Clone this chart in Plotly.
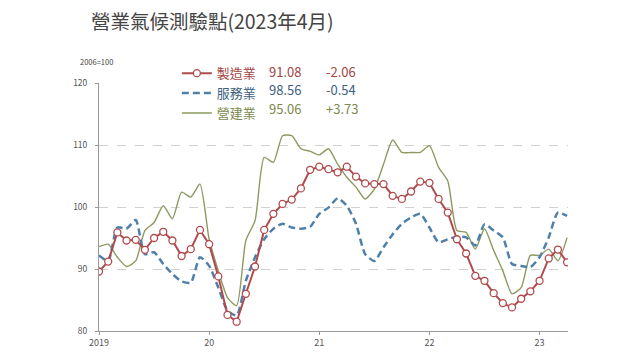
import plotly.graph_objects as go

months = list(range(52))  # 2019-01 .. 2023-04
tick_vals = [0, 12, 24, 36, 48]
tick_text = ["2019", "20", "21", "22", "23"]

manufacturing = [89.6, 91.2, 95.9, 94.6, 94.7, 93.1, 95.0, 96.0, 94.6, 92.1, 93.2, 96.3,
                 94.0, 88.8, 82.6, 81.5, 86.0, 90.4, 96.3, 98.9, 100.5, 101.2, 103.0, 106.0,
                 106.5, 106.1, 105.6, 106.5, 104.9, 103.8, 103.7, 103.7, 101.8, 101.3, 102.5, 104.1,
                 103.9, 101.3, 99.1, 94.8, 92.5, 88.9, 88.1, 86.1, 84.5, 83.8, 85.2, 86.4,
                 88.1, 91.7, 93.14, 91.08]
services = [92.2, 91.3, 96.7, 96.5, 97.9, 92.4, 92.7, 90.8, 89.2, 88.0, 87.8, 91.9,
            90.5, 87.0, 83.3, 82.5, 88.1, 91.9, 94.8, 96.5, 97.3, 96.7, 96.5, 96.8,
            98.9, 99.9, 101.4, 100.2, 97.3, 92.4, 91.3, 93.5, 95.6, 97.3, 98.3, 98.9,
            96.7, 94.3, 94.8, 95.2, 95.1, 93.8, 97.2, 96.2, 95.1, 90.8, 90.5, 90.3,
            91.9, 95.1, 99.10, 98.56]
construction = [93.6, 94.0, 91.9, 90.4, 91.3, 96.2, 97.5, 100.2, 98.1, 102.4, 101.6, 103.7,
                94.8, 89.7, 85.4, 84.1, 94.6, 97.8, 108.0, 107.2, 111.5, 111.5, 109.4, 109.0,
                108.4, 109.4, 106.9, 104.8, 103.2, 101.3, 102.9, 106.9, 110.8, 108.8, 108.8, 108.8,
                109.9, 106.4, 104.2, 96.2, 95.9, 93.2, 96.5, 93.0, 89.7, 86.0, 87.0, 92.2,
                92.2, 93.2, 91.33, 95.06]

names = ["製造業", "服務業", "營建業"]
colors = ["#b04a4c", "#4f80aa", "#8c9a60"]
text_colors = ["#a3443f", "#3d5f80", "#7d8a4e"]
series = [manufacturing, services, construction]

fig = go.Figure()
fig.add_trace(go.Scatter(x=months, y=construction, mode="lines", name=names[2],
                         line=dict(color=colors[2], width=1.4, shape="spline", smoothing=0.6)))
fig.add_trace(go.Scatter(x=months, y=services, mode="lines", name=names[1],
                         line=dict(color=colors[1], width=2.5, dash="7px,4px", shape="spline",
                                   smoothing=0.6)))
fig.add_trace(go.Scatter(x=months, y=manufacturing, mode="lines+markers", name=names[0],
                         line=dict(color=colors[0], width=2),
                         marker=dict(symbol="circle", size=7, color="white",
                                     line=dict(color=colors[0], width=1.3))))


def fmt_change(v):
    return ("+" if v > 0 else "") + f"{v:.2f}"


row_y = [1.045, 0.973, 0.898]
for k in range(3):
    vals = series[k]
    last = vals[-1]
    chg = vals[-1] - vals[-2]
    fig.add_annotation(xref="paper", yref="paper", x=0.358, y=row_y[k],
                       xanchor="left", yanchor="middle", showarrow=False,
                       text=f"{last:.2f}", font=dict(size=13, color=text_colors[k]))
    fig.add_annotation(xref="paper", yref="paper", x=0.479, y=row_y[k],
                       xanchor="left", yanchor="middle", showarrow=False,
                       text=fmt_change(chg), font=dict(size=13, color=text_colors[k]))

fig.add_annotation(xref="paper", yref="paper", x=-0.045, y=1.085, xanchor="left", yanchor="middle",
                   showarrow=False, text="2006=100", font=dict(size=7.5, color="#444"))

fig.update_layout(
    width=640, height=360,
    margin=dict(l=99, r=72, t=83, b=29),
    paper_bgcolor="white", plot_bgcolor="white",
    font=dict(family="Noto Sans CJK TC, Noto Sans, sans-serif", color="#444"),
    title=dict(text="營業氣候測驗點(2023年4月)", x=0.142, xanchor="left", y=0.939, yanchor="middle",
               font=dict(size=19.5, color="#444")),
    showlegend=True,
    legend=dict(x=0.166, y=1.1, xanchor="left", yanchor="top", traceorder="reversed",
                bgcolor="rgba(0,0,0,0)", font=dict(size=13), itemwidth=30,
                tracegroupgap=0),
    xaxis=dict(range=[0, 51.1], tickvals=tick_vals, ticktext=tick_text, showgrid=False,
               showline=True, linecolor="#999", linewidth=1, ticks="outside", ticklen=3,
               tickcolor="#999", tickfont=dict(size=9, color="#555"), zeroline=False),
    yaxis=dict(range=[80, 120], dtick=10, showgrid=True, gridcolor="#d0d0d0", griddash="dash",
               gridwidth=1, showline=True, linecolor="#999", linewidth=1, ticks="outside",
               ticklen=3, tickcolor="#999", tickfont=dict(size=8.5, color="#555"), zeroline=False,
               ticklabelstandoff=6),
)

for tr in fig.data:
    k = names.index(tr.name)
    tr.name = f"<span style='color:{text_colors[k]}'>{names[k]}</span>"

fig.write_html("out.html", config={"displayModeBar": False},
               post_script="document.body.style.margin='0px';")
